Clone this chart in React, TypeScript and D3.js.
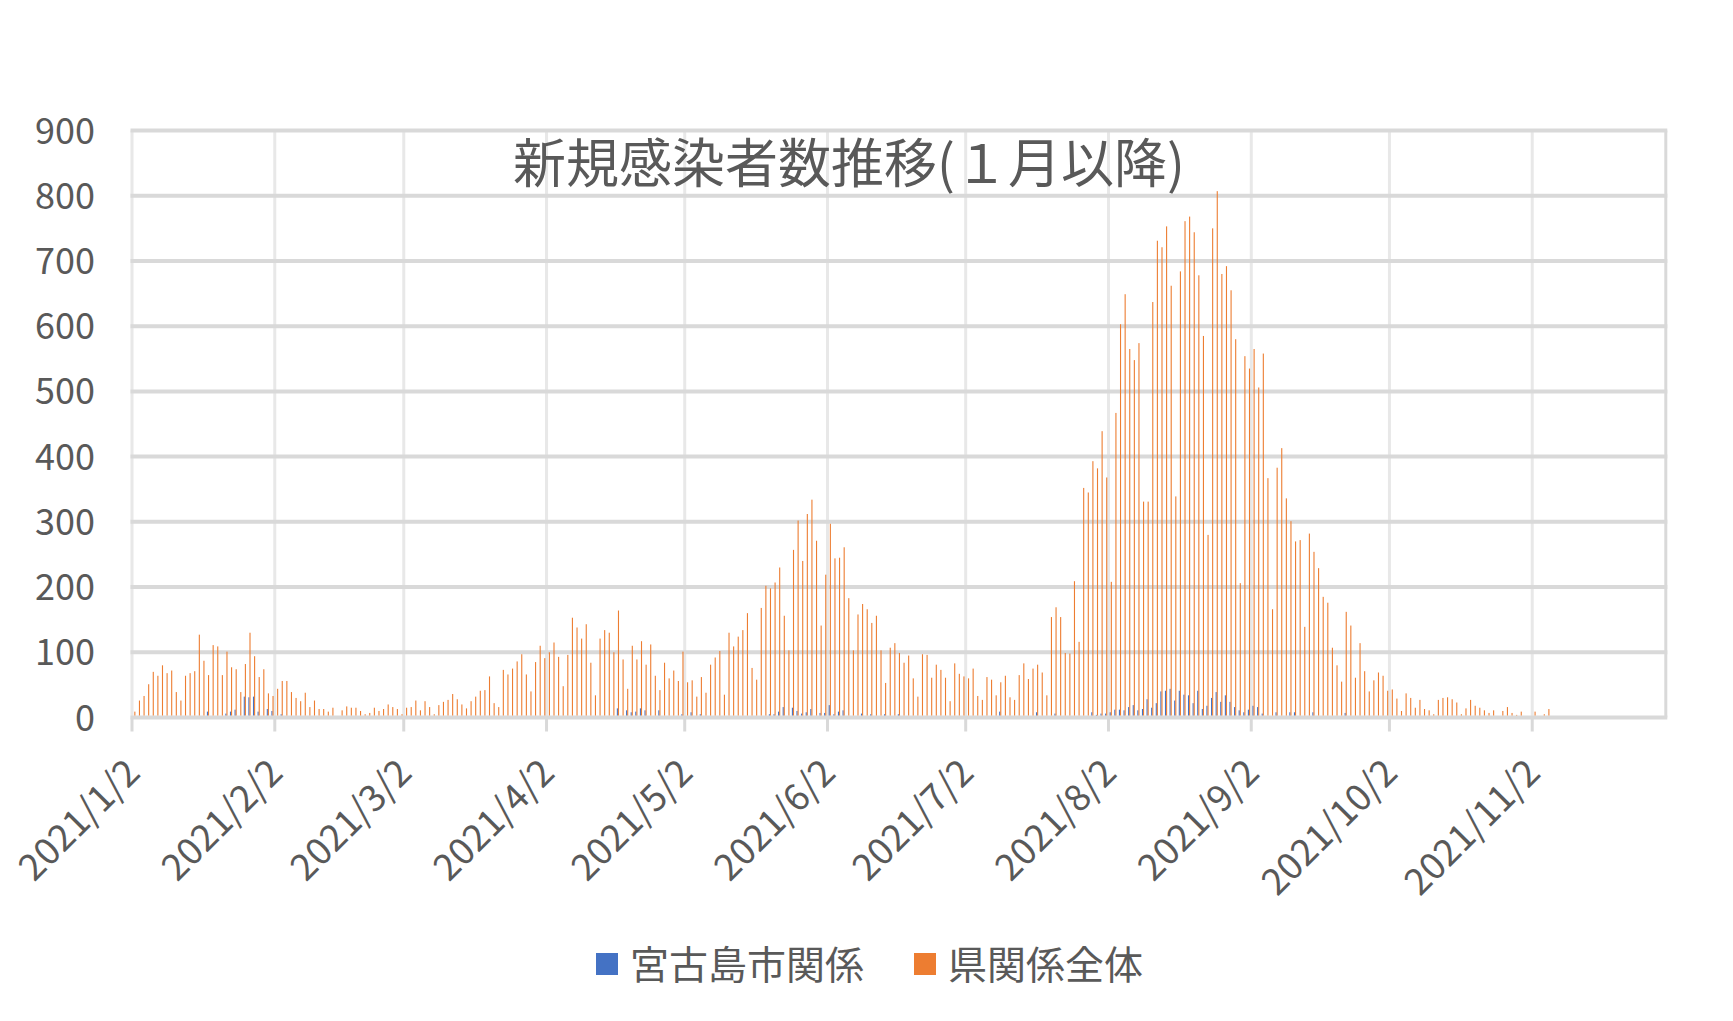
import React from "react";
import * as d3 from "d3";

// Categories: one per day, 2021/1/2 .. 2021/11/30
const startDate = new Date(2021, 0, 2);
const endDate = new Date(2021, 11, 1);
const dates: Date[] = d3.timeDay.range(startDate, endDate);

const tickLabels = [
  "2021/1/2", "2021/2/2", "2021/3/2", "2021/4/2", "2021/5/2", "2021/6/2",
  "2021/7/2", "2021/8/2", "2021/9/2", "2021/10/2", "2021/11/2",
];
const tickDates = tickLabels.map((s) => {
  const [y, m, d] = s.split("/").map(Number);
  return new Date(y, m - 1, d);
});

const yTicks = [0, 100, 200, 300, 400, 500, 600, 700, 800, 900];

const seriesNames = ["宮古島市関係", "県関係全体"];
const seriesColors = ["#4472C4", "#ED7D31"];

// 宮古島市関係
const miyakoValues = [
  0, 0, 0, 0, 0, 0, 0, 0, 0, 0,
  0, 3, 0, 0, 0, 3, 9, 3, 3, 0,
  6, 9, 12, 3, 32, 31, 32, 9, 0, 13,
  10, 3, 5, 0, 0, 0, 0, 0, 0, 0,
  0, 0, 0, 0, 2, 0, 0, 0, 0, 0,
  0, 0, 0, 0, 0, 0, 0, 0, 0, 0,
  0, 0, 0, 0, 0, 0, 0, 0, 0, 0,
  0, 0, 0, 0, 0, 0, 0, 0, 0, 0,
  0, 0, 0, 0, 0, 0, 0, 0, 0, 0,
  0, 0, 0, 0, 0, 0, 0, 0, 0, 0,
  0, 2, 0, 0, 3, 14, 0, 11, 8, 9,
  14, 11, 0, 2, 11, 0, 0, 3, 3, 5,
  0, 8, 0, 5, 0, 3, 0, 0, 0, 0,
  0, 0, 2, 0, 0, 2, 0, 0, 5, 5,
  9, 16, 2, 15, 10, 6, 8, 13, 2, 7,
  7, 19, 5, 9, 11, 3, 0, 0, 6, 0,
  5, 0, 0, 5, 0, 0, 5, 0, 0, 0,
  0, 0, 0, 0, 0, 0, 0, 0, 0, 0,
  0, 0, 0, 0, 0, 0, 0, 0, 9, 0,
  0, 0, 0, 2, 0, 0, 8, 0, 0, 0,
  6, 0, 0, 0, 0, 0, 2, 0, 8, 4,
  6, 6, 8, 12, 12, 11, 16, 19, 11, 13,
  28, 15, 22, 40, 41, 44, 26, 41, 35, 34,
  22, 41, 13, 18, 30, 39, 24, 34, 24, 16,
  11, 8, 12, 18, 16, 6, 0, 0, 8, 2,
  0, 8, 8, 0, 0, 0, 8, 0, 0, 0,
  0, 0, 0, 7, 0, 0, 0, 0, 0, 0,
  0, 3, 0, 0, 3, 0, 0, 0, 0, 0,
  0, 0, 0, 0, 0, 0, 0, 0, 0, 0,
  0, 0, 0, 0, 0, 0, 0, 0, 0, 0,
  0, 0, 0, 0, 0, 0, 0, 0, 0, 0,
  0, 0, 0, 0, 0, 0, 0, 0, 0, 0,
  0, 0, 0, 0, 0, 0, 0, 0, 0, 0,
  0, 0, 0,
];

// 県関係全体
const prefValues = [
  9, 26, 33, 51, 70, 64, 80, 68, 72, 39,
  26, 64, 68, 71, 127, 87, 65, 111, 109, 65,
  101, 77, 74, 39, 82, 130, 94, 62, 74, 37,
  33, 44, 56, 56, 39, 30, 25, 38, 16, 26,
  13, 13, 9, 15, 3, 11, 17, 15, 15, 10,
  5, 7, 15, 10, 13, 20, 16, 13, 5, 15,
  16, 26, 11, 25, 16, 5, 19, 24, 27, 36,
  28, 20, 14, 25, 32, 41, 42, 63, 22, 16,
  73, 66, 75, 86, 97, 66, 40, 85, 110, 91,
  100, 115, 93, 48, 96, 153, 138, 121, 143, 84,
  34, 121, 134, 130, 100, 164, 89, 44, 110, 89,
  117, 81, 112, 64, 42, 84, 60, 72, 56, 101,
  54, 57, 32, 62, 38, 81, 92, 102, 35, 130,
  109, 124, 134, 160, 76, 58, 168, 202, 198, 207,
  230, 156, 103, 257, 302, 240, 312, 334, 271, 141,
  219, 297, 244, 245, 261, 183, 103, 158, 174, 166,
  145, 156, 103, 53, 107, 114, 99, 84, 95, 60,
  32, 97, 96, 61, 81, 73, 61, 25, 83, 67,
  63, 60, 75, 33, 27, 62, 58, 34, 54, 64,
  31, 27, 65, 83, 59, 75, 81, 69, 34, 154,
  169, 154, 99, 98, 209, 116, 352, 345, 393, 382,
  439, 368, 208, 467, 603, 649, 565, 548, 574, 331,
  331, 637, 731, 721, 753, 662, 339, 684, 761, 768,
  744, 678, 585, 280, 750, 807, 680, 692, 655, 580,
  206, 554, 535, 565, 506, 558, 367, 166, 383, 413,
  336, 301, 270, 272, 139, 282, 254, 229, 185, 176,
  107, 80, 55, 162, 141, 61, 114, 71, 40, 57,
  69, 64, 41, 43, 29, 10, 37, 30, 15, 27,
  13, 11, 5, 27, 30, 31, 28, 23, 5, 14,
  27, 18, 15, 11, 7, 11, 3, 10, 16, 7,
  4, 9, 0, 0, 9, 3, 5, 13, 0, 0,
  0, 0, 2, 0, 0, 0, 0, 0, 0, 0,
  0, 0, 0, 0, 0, 0, 0, 0, 0, 0,
  0, 0, 0,
];

const titleText = "新規感染者数推移(１月以降)";

const W = 1733;
const H = 1021;
const FONT = "'Noto Sans CJK JP', 'Noto Sans', sans-serif";
const TEXT = "#595959";

export default function App() {
  const left = 132;
  const dayW = 4.606;
  const right = left + dates.length * dayW;
  const top = 130.5;
  const bottom = 717.5;

  const x0 = d3
    .scaleBand<number>()
    .domain(dates.map((d) => +d))
    .range([left, right])
    .padding(0);
  const x1 = d3
    .scaleBand<string>()
    .domain(seriesNames)
    .range([0, x0.bandwidth()])
    .paddingInner(0)
    .paddingOuter(1.1);
  const y = d3.scaleLinear().domain([0, 900]).range([bottom, top]);

  const series = [miyakoValues, prefValues];

  return (
    <svg
      width={W}
      height={H}
      style={{ position: "absolute", left: 0, top: 0, background: "#fff" }}
      fontFamily={FONT}
    >
      <rect x={0} y={0} width={W} height={H} fill="#ffffff" />
      {/* vertical gridlines */}
      {tickDates.map((d, i) => (
        <line
          key={"vg" + i}
          x1={x0(+d)!}
          x2={x0(+d)!}
          y1={top}
          y2={bottom}
          stroke="#e8e8e8"
          strokeWidth={3}
        />
      ))}
      <line x1={right} x2={right} y1={top} y2={bottom} stroke="#d9d9d9" strokeWidth={3} />
      {/* horizontal gridlines */}
      {yTicks.map((t) => (
        <line
          key={"hg" + t}
          x1={left - 1.5}
          x2={right + 1.5}
          y1={y(t)}
          y2={y(t)}
          stroke="#d9d9d9"
          strokeWidth={4}
        />
      ))}
      {/* tick marks */}
      {tickDates.map((d, i) => (
        <line
          key={"tm" + i}
          x1={x0(+d)!}
          x2={x0(+d)!}
          y1={bottom}
          y2={bottom + 14}
          stroke="#d9d9d9"
          strokeWidth={3}
        />
      ))}
      {/* bars */}
      {series.map((vals, si) => (
        <g key={"s" + si} fill={seriesColors[si]}>
          {dates.map((d, i) =>
            vals[i] > 0 ? (
              <rect
                key={i}
                x={x0(+d)! + x1(seriesNames[si])!}
                width={x1.bandwidth()}
                y={y(vals[i])}
                height={y(0) - y(vals[i]) - 2}
              />
            ) : null
          )}
        </g>
      ))}
      {/* y axis labels */}
      {yTicks.map((t) => (
        <text
          key={"yl" + t}
          x={95}
          y={y(t) - 3}
          textAnchor="end"
          dominantBaseline="central"
          fontSize={36}
          fill={TEXT}
        >
          {t}
        </text>
      ))}
      {/* x axis labels */}
      {tickDates.map((d, i) => {
        const tx = x0(+d)! + 10;
        const ty = 775;
        return (
          <text
            key={"xl" + i}
            x={tx}
            y={ty}
            textAnchor="end"
            fontSize={37}
            fill={TEXT}
            transform={`rotate(-45 ${tx} ${ty})`}
          >
            {tickLabels[i]}
          </text>
        );
      })}
      {/* title */}
      <text
        x={849}
        y={160}
        textAnchor="middle"
        dominantBaseline="central"
        fontSize={53}
        fill={TEXT}
      >
        {titleText}
      </text>
      {/* legend */}
      {seriesNames.map((n, i) => {
        const lx = i === 0 ? 596 : 914;
        return (
          <g key={"lg" + i}>
            <rect x={lx} y={953} width={22} height={22} fill={seriesColors[i]} />
            <text
              x={lx + 34}
              y={962}
              dominantBaseline="central"
              fontSize={39}
              fill={TEXT}
            >
              {n}
            </text>
          </g>
        );
      })}
    </svg>
  );
}
